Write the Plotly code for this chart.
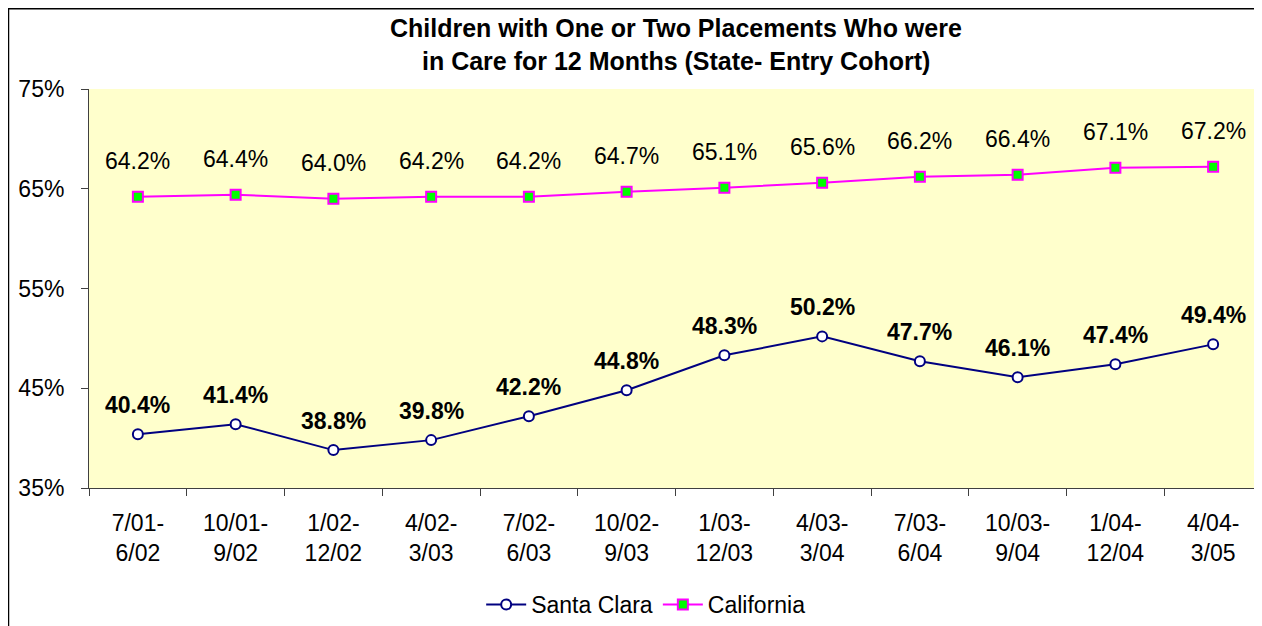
import plotly.graph_objects as go

periods = ["7/01-<br>6/02", "10/01-<br>9/02", "1/02-<br>12/02", "4/02-<br>3/03",
           "7/02-<br>6/03", "10/02-<br>9/03", "1/03-<br>12/03", "4/03-<br>3/04",
           "7/03-<br>6/04", "10/03-<br>9/04", "1/04-<br>12/04", "4/04-<br>3/05"]
santa_clara = [40.4, 41.4, 38.8, 39.8, 42.2, 44.8, 48.3, 50.2, 47.7, 46.1, 47.4, 49.4]
california = [64.2, 64.4, 64.0, 64.2, 64.2, 64.7, 65.1, 65.6, 66.2, 66.4, 67.1, 67.2]
y_ticks = [35, 45, 55, 65, 75]

# page has an 8px body margin, so the figure is a bit smaller than the window
W, H = 1254, 618
L, R, T, B = 81, 0, 81, 137
pw, ph = W - L - R, H - T - B
font = "Liberation Sans, Arial, sans-serif"
fs = 23

fig = go.Figure()

fig.add_trace(go.Scatter(
    x=periods, y=santa_clara, name="Santa Clara", mode="lines+markers",
    line=dict(color="#000080", width=2),
    marker=dict(symbol="circle", size=10, color="white",
                line=dict(color="#000080", width=2)),
))
fig.add_trace(go.Scatter(
    x=periods, y=california, name="California", mode="lines+markers",
    line=dict(color="#FF00FF", width=2),
    marker=dict(symbol="square", size=10, color="#00FF00",
                line=dict(color="#FF00FF", width=2)),
))

# data labels
annotations = []
for p, v in zip(periods, santa_clara):
    annotations.append(dict(x=p, y=v, text=f"<b>{v:.1f}%</b>", showarrow=False,
                            yshift=29, font=dict(size=fs, color="black", family=font)))
for p, v in zip(periods, california):
    annotations.append(dict(x=p, y=v, text=f"{v:.1f}%", showarrow=False,
                            yshift=36, font=dict(size=fs, color="black", family=font)))

# title, two lines placed separately
title_lines = ["Children with One or Two Placements Who were",
               "in Care for 12 Months (State- Entry Cohort)"]
for i, line in enumerate(title_lines):
    annotations.append(dict(xref="paper", yref="paper", x=0.5,
                            y=1 + (T - 20 - 33 * i) / ph, yanchor="middle",
                            text=f"<b>{line}</b>", showarrow=False,
                            font=dict(size=25, color="black", family=font)))

# outer chart border
border = dict(type="rect", xref="paper", yref="paper",
              x0=-(L - 0.5) / pw, x1=(W + 10 - L) / pw,
              y0=-(B + 10) / ph, y1=1 + (T - 0.5) / ph,
              line=dict(color="black", width=1.5), layer="below")

fig.update_layout(
    width=W, height=H,
    margin=dict(l=L, r=R, t=T, b=B),
    paper_bgcolor="white",
    plot_bgcolor="#FFFFCC",
    font=dict(family=font, size=fs, color="black"),
    showlegend=True,
    legend=dict(orientation="h", xref="paper", x=0.475, xanchor="center",
                yref="paper", y=-(598 - T - ph) / ph, yanchor="middle",
                font=dict(size=fs), itemwidth=40, bgcolor="rgba(0,0,0,0)"),
    annotations=annotations,
    shapes=[border],
    xaxis=dict(type="category", range=[-0.5, len(periods) - 0.5],
               showgrid=False, showline=True, linecolor="#404040", linewidth=1,
               ticks="outside", tickson="boundaries", ticklen=7,
               tickcolor="#404040", ticklabelstandoff=14,
               tickfont=dict(size=fs)),
    yaxis=dict(range=[35, 75], tickvals=y_ticks,
               ticktext=[f"{t}%" for t in y_ticks],
               showgrid=False, showline=True, linecolor="#404040", linewidth=1,
               ticks="outside", ticklen=7, tickcolor="#404040",
               ticklabelstandoff=12, zeroline=False,
               tickfont=dict(size=fs)),
)

fig.write_html("out.html")
